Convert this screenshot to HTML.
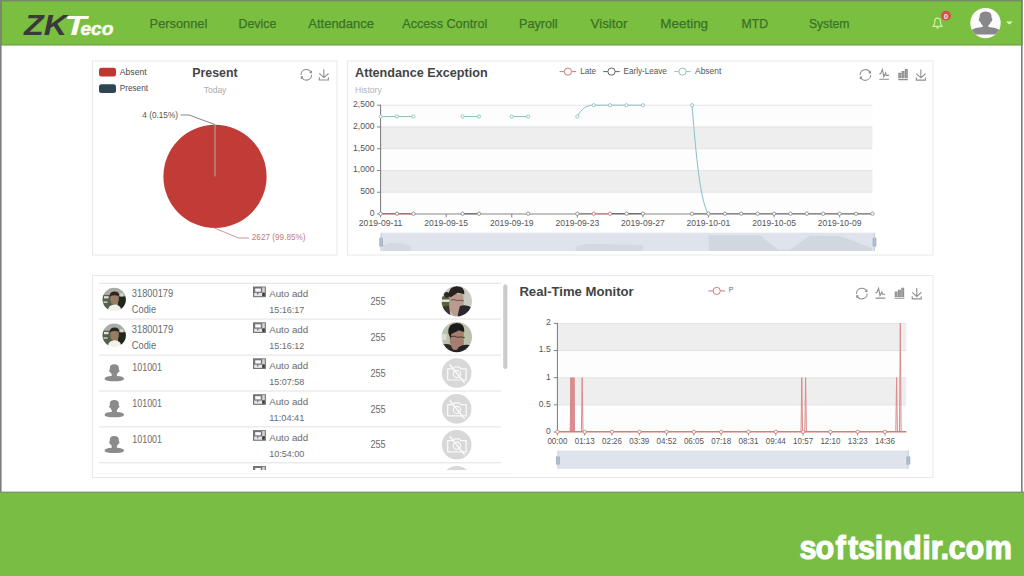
<!DOCTYPE html>
<html><head><meta charset="utf-8"><title>ZKTeco Dashboard</title>
<style>
html,body{margin:0;padding:0;width:1024px;height:576px;overflow:hidden;background:#fff}
svg{display:block;position:absolute;left:0;top:0}
text{font-family:'Liberation Sans', Arial, sans-serif}
</style></head>
<body>
<svg width="1024" height="576" viewBox="0 0 1024 576">
<rect x="0" y="0" width="1024" height="576" fill="#fff"/>
<rect x="1" y="1" width="1021" height="44.5" fill="#7abf3f"/>
<rect x="1" y="43.8" width="1021" height="1.5" fill="#74aa50"/>
<rect x="0" y="0" width="1022.5" height="1.4" fill="#76876a"/>
<rect x="0" y="0" width="1.6" height="492" fill="#7e7e7e"/>
<rect x="1021" y="0" width="1.6" height="492" fill="#7e7e7e"/>
<rect x="0" y="0" width="1.6" height="45" fill="#75886a"/>
<rect x="1021" y="0" width="1.6" height="45" fill="#75886a"/>
<rect x="0" y="492" width="1024" height="84" fill="#79bd45"/>
<rect x="0" y="491.6" width="1024" height="1.2" fill="#7a8f6a"/>
<g font-family="'Liberation Sans', Arial, sans-serif" font-weight="bold" font-style="italic">
<text x="24" y="35" font-size="29.6" fill="#3a3a3c" textLength="43" lengthAdjust="spacingAndGlyphs" font-weight="bold" font-style="italic">ZK</text>
<text x="64.5" y="35" font-size="28.5" fill="#fbfdf5" textLength="22" lengthAdjust="spacingAndGlyphs" font-weight="bold" font-style="italic">T</text>
<text x="80.4" y="34.9" font-size="18.6" fill="#fbfdf5" textLength="33" lengthAdjust="spacingAndGlyphs" font-weight="bold" font-style="italic" stroke="#fbfdf5" stroke-width="0.5">eco</text>
</g>
<text x="149.6" y="27.7" font-size="13.5" fill="#3b7128" textLength="57.7" lengthAdjust="spacingAndGlyphs" stroke="#3b7128" stroke-width="0.25">Personnel</text>
<text x="238.5" y="27.7" font-size="13.5" fill="#3b7128" textLength="37.8" lengthAdjust="spacingAndGlyphs" stroke="#3b7128" stroke-width="0.25">Device</text>
<text x="308.3" y="27.7" font-size="13.5" fill="#3b7128" textLength="65.7" lengthAdjust="spacingAndGlyphs" stroke="#3b7128" stroke-width="0.25">Attendance</text>
<text x="402.2" y="27.7" font-size="13.5" fill="#3b7128" textLength="85.1" lengthAdjust="spacingAndGlyphs" stroke="#3b7128" stroke-width="0.25">Access Control</text>
<text x="519" y="27.7" font-size="13.5" fill="#3b7128" textLength="38.6" lengthAdjust="spacingAndGlyphs" stroke="#3b7128" stroke-width="0.25">Payroll</text>
<text x="590.6" y="27.7" font-size="13.5" fill="#3b7128" textLength="36.8" lengthAdjust="spacingAndGlyphs" stroke="#3b7128" stroke-width="0.25">Visitor</text>
<text x="660.3" y="27.7" font-size="13.5" fill="#3b7128" textLength="47.8" lengthAdjust="spacingAndGlyphs" stroke="#3b7128" stroke-width="0.25">Meeting</text>
<text x="741.6" y="27.7" font-size="13.5" fill="#3b7128" textLength="26.6" lengthAdjust="spacingAndGlyphs" stroke="#3b7128" stroke-width="0.25">MTD</text>
<text x="808.9" y="27.7" font-size="13.5" fill="#3b7128" textLength="40.6" lengthAdjust="spacingAndGlyphs" stroke="#3b7128" stroke-width="0.25">System</text>
<g fill="none" stroke="#c8efa2" stroke-width="1.25" stroke-linejoin="round" stroke-linecap="round"><path d="M932.9 26.4 L942.2 26.4 Q940.4 25 940.4 22.6 L940.4 21.2 Q940.4 18.1 937.55 18.1 Q934.7 18.1 934.7 21.2 L934.7 22.6 Q934.7 25 932.9 26.4 Z"/><path d="M936.6 27.6 Q937.55 28.6 938.5 27.6"/></g>
<circle cx="946" cy="15.7" r="4.9" fill="#d6504c"/>
<text x="946" y="18.5" font-size="7.8" fill="#ffe8e8" font-weight="bold" text-anchor="middle">0</text>
<circle cx="985.5" cy="23.1" r="15.2" fill="#fcfcfa"/>
<clipPath id="avc"><circle cx="985.5" cy="23.1" r="15.2"/></clipPath>
<g clip-path="url(#avc)" fill="#88888c"><path d="M979.5 18 Q979 11.6 985.6 11.6 Q992.2 11.6 991.6 18 Q992.8 18.2 992.2 20.4 Q991.6 21.6 990.8 21.8 Q990 24.6 988.4 25.6 L988.4 27 Q996.5 27.6 999.5 30 L1001 34.6 L970 34.6 L971.5 30 Q974.5 27.6 982.7 27 L982.7 25.6 Q981.1 24.6 980.3 21.8 Q979.5 21.6 978.9 20.4 Q978.3 18.2 979.5 18 Z"/></g>
<path d="M1005.8 21.4 L1012.9 21.4 L1009.35 24.6 Z" fill="#dff2cf"/>
<defs><filter id="blr" x="-10%" y="-10%" width="120%" height="120%"><feGaussianBlur stdDeviation="0.55"/></filter></defs>
<rect x="92.5" y="61" width="244.5" height="194" fill="#fff" stroke="#e8e8e8" stroke-width="1"/>
<rect x="347.5" y="61" width="585.5" height="194" fill="#fff" stroke="#e8e8e8" stroke-width="1"/>
<rect x="92.5" y="275.5" width="840.5" height="202" fill="#fff" stroke="#e8e8e8" stroke-width="1"/>
<rect x="99" y="67.8" width="17" height="8.8" rx="2.5" fill="#c23531"/>
<rect x="99" y="84.2" width="17" height="8.8" rx="2.5" fill="#2f4554"/>
<text x="119.8" y="74.8" font-size="8.7" fill="#4a4a4a" textLength="26.9" lengthAdjust="spacingAndGlyphs">Absent</text>
<text x="119.8" y="90.9" font-size="8.7" fill="#4a4a4a" textLength="28.2" lengthAdjust="spacingAndGlyphs">Present</text>
<text x="192.3" y="77.2" font-size="12.7" fill="#444" textLength="45.3" lengthAdjust="spacingAndGlyphs" font-weight="bold">Present</text>
<text x="203.7" y="92.6" font-size="8.4" fill="#aaa" textLength="22.7" lengthAdjust="spacingAndGlyphs">Today</text>
<circle cx="215" cy="176.4" r="51.6" fill="#c13c37"/>
<line x1="215" y1="124.8" x2="215" y2="176.4" stroke="#bba9a9" stroke-width="1"/>
<polyline points="180.5,115 189,115 215,124.6" fill="none" stroke="#6f7a80" stroke-width="0.9"/>
<text x="142.3" y="117.8" font-size="8.6" fill="#555" textLength="35.7" lengthAdjust="spacingAndGlyphs">4 (0.15%)</text>
<polyline points="214,227.8 238.5,238 249,238" fill="none" stroke="#c8888c" stroke-width="0.9"/>
<text x="251.8" y="240.3" font-size="8.6" fill="#c47a80" textLength="53.8" lengthAdjust="spacingAndGlyphs">2627 (99.85%)</text>
<path d="M47,18.9h9.8V8.7 M56.3,20.1 C52.1,9,40.5,0.6,26.8,2.1C12.6,3.7,1.6,16.2,2.1,30.6 M13,41.1H3.1v10.2 M3.7,39.9c4.2,11.1,15.8,19.5,29.5,18 c14.2-1.6,25.2-14.1,24.7-28.5" fill="none" stroke="#8f8f8f" stroke-width="1.1" vector-effect="non-scaling-stroke" transform="translate(300.60,69.09) scale(0.19)"/>
<path d="M4.7,22.9L29.3,45.5L54.7,23.4M4.6,43.6L4.6,58L53.8,58L53.8,43.6M29.2,45.1L29.2,0" fill="none" stroke="#8f8f8f" stroke-width="1.1" vector-effect="non-scaling-stroke" transform="translate(318.45,69.20) scale(0.185)"/>
<text x="355.1" y="76.9" font-size="12.6" fill="#444" textLength="132.5" lengthAdjust="spacingAndGlyphs" font-weight="bold">Attendance Exception</text>
<text x="355" y="93.1" font-size="8.4" fill="#b4b4b4" textLength="26.7" lengthAdjust="spacingAndGlyphs">History</text>
<line x1="559.6" y1="71.6" x2="576.1999999999999" y2="71.6" stroke="#d27a7c" stroke-width="1"/><circle cx="567.9" cy="71.6" r="3.6" fill="#fff" stroke="#d27a7c" stroke-width="1"/>
<line x1="603.2" y1="71.6" x2="619.8" y2="71.6" stroke="#606468" stroke-width="1"/><circle cx="611.5" cy="71.6" r="3.6" fill="#fff" stroke="#606468" stroke-width="1"/>
<line x1="674.2" y1="71.6" x2="690.8" y2="71.6" stroke="#92c2c4" stroke-width="1"/><circle cx="682.5" cy="71.6" r="3.6" fill="#fff" stroke="#92c2c4" stroke-width="1"/>
<text x="580.2" y="74.4" font-size="8.6" fill="#555" textLength="15.8" lengthAdjust="spacingAndGlyphs">Late</text>
<text x="623.5" y="74.4" font-size="8.6" fill="#555" textLength="43.4" lengthAdjust="spacingAndGlyphs">Early-Leave</text>
<text x="695" y="74.4" font-size="8.6" fill="#555" textLength="26.4" lengthAdjust="spacingAndGlyphs">Absent</text>
<path d="M47,18.9h9.8V8.7 M56.3,20.1 C52.1,9,40.5,0.6,26.8,2.1C12.6,3.7,1.6,16.2,2.1,30.6 M13,41.1H3.1v10.2 M3.7,39.9c4.2,11.1,15.8,19.5,29.5,18 c14.2-1.6,25.2-14.1,24.7-28.5" fill="none" stroke="#8f8f8f" stroke-width="1.1" vector-effect="non-scaling-stroke" transform="translate(859.70,69.29) scale(0.19)"/>
<path d="M4.1,28.9h7.1l9.3-22l7.4,38l9.7-19.7l3,12.8h14.9M4.1,58h51.4" fill="none" stroke="#8f8f8f" stroke-width="1.1" vector-effect="non-scaling-stroke" transform="translate(878.52,68.19) scale(0.19)"/>
<path d="M6.7,22.9h10V48h-10V22.9zM24.9,13h10v35h-10V13zM43.2,2h10v46h-10V2zM3.1,58h53.7" fill="#a8a8a8" stroke="#8f8f8f" stroke-width="1.1" vector-effect="non-scaling-stroke" transform="translate(897.64,69.14) scale(0.18)"/>
<path d="M4.7,22.9L29.3,45.5L54.7,23.4M4.6,43.6L4.6,58L53.8,58L53.8,43.6M29.2,45.1L29.2,0" fill="none" stroke="#8f8f8f" stroke-width="1.1" vector-effect="non-scaling-stroke" transform="translate(915.45,69.40) scale(0.185)"/>
<rect x="380.6" y="192.24" width="491.80" height="21.76" fill="#fdfdfd"/>
<rect x="380.6" y="170.48" width="491.80" height="21.76" fill="#eeeeee"/>
<rect x="380.6" y="148.72" width="491.80" height="21.76" fill="#fdfdfd"/>
<rect x="380.6" y="126.96" width="491.80" height="21.76" fill="#eeeeee"/>
<rect x="380.6" y="105.20" width="491.80" height="21.76" fill="#fdfdfd"/>
<line x1="380.6" y1="192.24" x2="872.4" y2="192.24" stroke="#dedede" stroke-width="0.8"/>
<line x1="380.6" y1="170.48" x2="872.4" y2="170.48" stroke="#dedede" stroke-width="0.8"/>
<line x1="380.6" y1="148.72" x2="872.4" y2="148.72" stroke="#dedede" stroke-width="0.8"/>
<line x1="380.6" y1="126.96" x2="872.4" y2="126.96" stroke="#dedede" stroke-width="0.8"/>
<line x1="380.6" y1="105.20" x2="872.4" y2="105.20" stroke="#dedede" stroke-width="0.8"/>
<text x="374.6" y="215.8" font-size="8.6" fill="#555" text-anchor="end">0</text>
<line x1="377.0" y1="214.00" x2="380.6" y2="214.00" stroke="#777" stroke-width="0.9"/>
<text x="374.6" y="194.04000000000002" font-size="8.6" fill="#555" text-anchor="end">500</text>
<line x1="377.0" y1="192.24" x2="380.6" y2="192.24" stroke="#777" stroke-width="0.9"/>
<text x="374.6" y="172.28000000000003" font-size="8.6" fill="#555" text-anchor="end">1,000</text>
<line x1="377.0" y1="170.48" x2="380.6" y2="170.48" stroke="#777" stroke-width="0.9"/>
<text x="374.6" y="150.52" font-size="8.6" fill="#555" text-anchor="end">1,500</text>
<line x1="377.0" y1="148.72" x2="380.6" y2="148.72" stroke="#777" stroke-width="0.9"/>
<text x="374.6" y="128.76000000000002" font-size="8.6" fill="#555" text-anchor="end">2,000</text>
<line x1="377.0" y1="126.96" x2="380.6" y2="126.96" stroke="#777" stroke-width="0.9"/>
<text x="374.6" y="107.00000000000001" font-size="8.6" fill="#555" text-anchor="end">2,500</text>
<line x1="377.0" y1="105.20" x2="380.6" y2="105.20" stroke="#777" stroke-width="0.9"/>
<line x1="380.6" y1="104.7" x2="380.6" y2="214.0" stroke="#777" stroke-width="1"/>
<line x1="380.6" y1="214.0" x2="872.4" y2="214.0" stroke="#888" stroke-width="1.2"/>
<text x="380.6" y="225.9" font-size="8.6" fill="#555" textLength="43.7" lengthAdjust="spacingAndGlyphs" text-anchor="middle">2019-09-11</text>
<line x1="380.60" y1="214.0" x2="380.60" y2="217.5" stroke="#777" stroke-width="0.9"/>
<text x="446.17" y="225.9" font-size="8.6" fill="#555" textLength="43.7" lengthAdjust="spacingAndGlyphs" text-anchor="middle">2019-09-15</text>
<line x1="446.17" y1="214.0" x2="446.17" y2="217.5" stroke="#777" stroke-width="0.9"/>
<text x="511.75" y="225.9" font-size="8.6" fill="#555" textLength="43.7" lengthAdjust="spacingAndGlyphs" text-anchor="middle">2019-09-19</text>
<line x1="511.75" y1="214.0" x2="511.75" y2="217.5" stroke="#777" stroke-width="0.9"/>
<text x="577.32" y="225.9" font-size="8.6" fill="#555" textLength="43.7" lengthAdjust="spacingAndGlyphs" text-anchor="middle">2019-09-23</text>
<line x1="577.32" y1="214.0" x2="577.32" y2="217.5" stroke="#777" stroke-width="0.9"/>
<text x="642.89" y="225.9" font-size="8.6" fill="#555" textLength="43.7" lengthAdjust="spacingAndGlyphs" text-anchor="middle">2019-09-27</text>
<line x1="642.89" y1="214.0" x2="642.89" y2="217.5" stroke="#777" stroke-width="0.9"/>
<text x="708.47" y="225.9" font-size="8.6" fill="#555" textLength="43.7" lengthAdjust="spacingAndGlyphs" text-anchor="middle">2019-10-01</text>
<line x1="708.47" y1="214.0" x2="708.47" y2="217.5" stroke="#777" stroke-width="0.9"/>
<text x="774.04" y="225.9" font-size="8.6" fill="#555" textLength="43.7" lengthAdjust="spacingAndGlyphs" text-anchor="middle">2019-10-05</text>
<line x1="774.04" y1="214.0" x2="774.04" y2="217.5" stroke="#777" stroke-width="0.9"/>
<text x="839.61" y="225.9" font-size="8.6" fill="#555" textLength="43.7" lengthAdjust="spacingAndGlyphs" text-anchor="middle">2019-10-09</text>
<line x1="839.61" y1="214.0" x2="839.61" y2="217.5" stroke="#777" stroke-width="0.9"/>
<line x1="380.60" y1="213.7" x2="413.39" y2="213.7" stroke="#a87070" stroke-width="1.2"/>
<line x1="462.57" y1="213.7" x2="478.96" y2="213.7" stroke="#707070" stroke-width="1.2"/>
<line x1="577.32" y1="213.7" x2="593.71" y2="213.7" stroke="#8a8a8a" stroke-width="1.2"/>
<line x1="593.71" y1="213.7" x2="610.11" y2="213.7" stroke="#d08080" stroke-width="1.2"/>
<line x1="610.11" y1="213.7" x2="642.89" y2="213.7" stroke="#707070" stroke-width="1.2"/>
<line x1="692.07" y1="213.7" x2="872.40" y2="213.7" stroke="#8a8a8a" stroke-width="1.2"/>
<path d="M380.60 116.52 L413.39 116.52 M462.57 116.52 L478.96 116.52 M511.75 116.52 L528.14 116.52 M577.32 116.52 C581.32 109.55 585.32 105.20 593.71 105.20 L642.89 105.20 M692.07 105.20 C694.57 135.66 699.07 200.94 708.47 214.00" fill="none" stroke="#8cbfc2" stroke-width="1"/>
<circle cx="380.60" cy="116.52" r="1.6" fill="#fff" stroke="#8cbfc2" stroke-width="0.9"/>
<circle cx="396.99" cy="116.52" r="1.6" fill="#fff" stroke="#8cbfc2" stroke-width="0.9"/>
<circle cx="413.39" cy="116.52" r="1.6" fill="#fff" stroke="#8cbfc2" stroke-width="0.9"/>
<circle cx="462.57" cy="116.52" r="1.6" fill="#fff" stroke="#8cbfc2" stroke-width="0.9"/>
<circle cx="478.96" cy="116.52" r="1.6" fill="#fff" stroke="#8cbfc2" stroke-width="0.9"/>
<circle cx="511.75" cy="116.52" r="1.6" fill="#fff" stroke="#8cbfc2" stroke-width="0.9"/>
<circle cx="528.14" cy="116.52" r="1.6" fill="#fff" stroke="#8cbfc2" stroke-width="0.9"/>
<circle cx="577.32" cy="116.52" r="1.6" fill="#fff" stroke="#8cbfc2" stroke-width="0.9"/>
<circle cx="593.71" cy="105.20" r="1.6" fill="#fff" stroke="#8cbfc2" stroke-width="0.9"/>
<circle cx="610.11" cy="105.20" r="1.6" fill="#fff" stroke="#8cbfc2" stroke-width="0.9"/>
<circle cx="626.50" cy="105.20" r="1.6" fill="#fff" stroke="#8cbfc2" stroke-width="0.9"/>
<circle cx="642.89" cy="105.20" r="1.6" fill="#fff" stroke="#8cbfc2" stroke-width="0.9"/>
<circle cx="692.07" cy="105.20" r="1.6" fill="#fff" stroke="#8cbfc2" stroke-width="0.9"/>
<circle cx="380.60" cy="213.70" r="1.7" fill="#fff" stroke="#8c8c8c" stroke-width="0.9"/>
<circle cx="396.99" cy="213.70" r="1.7" fill="#fff" stroke="#8c8c8c" stroke-width="0.9"/>
<circle cx="413.39" cy="213.70" r="1.7" fill="#fff" stroke="#8c8c8c" stroke-width="0.9"/>
<circle cx="462.57" cy="213.70" r="1.7" fill="#fff" stroke="#8c8c8c" stroke-width="0.9"/>
<circle cx="478.96" cy="213.70" r="1.7" fill="#fff" stroke="#8c8c8c" stroke-width="0.9"/>
<circle cx="528.14" cy="213.70" r="1.7" fill="#fff" stroke="#8c8c8c" stroke-width="0.9"/>
<circle cx="577.32" cy="213.70" r="1.7" fill="#fff" stroke="#8c8c8c" stroke-width="0.9"/>
<circle cx="593.71" cy="213.70" r="1.7" fill="#fff" stroke="#cc7777" stroke-width="0.9"/>
<circle cx="610.11" cy="213.70" r="1.7" fill="#fff" stroke="#cc7777" stroke-width="0.9"/>
<circle cx="626.50" cy="213.70" r="1.7" fill="#fff" stroke="#8c8c8c" stroke-width="0.9"/>
<circle cx="642.89" cy="213.70" r="1.7" fill="#fff" stroke="#8c8c8c" stroke-width="0.9"/>
<circle cx="692.07" cy="213.70" r="1.7" fill="#fff" stroke="#8c8c8c" stroke-width="0.9"/>
<circle cx="708.47" cy="213.70" r="1.7" fill="#fff" stroke="#8c8c8c" stroke-width="0.9"/>
<circle cx="724.86" cy="213.70" r="1.7" fill="#fff" stroke="#8c8c8c" stroke-width="0.9"/>
<circle cx="741.25" cy="213.70" r="1.7" fill="#fff" stroke="#8c8c8c" stroke-width="0.9"/>
<circle cx="757.65" cy="213.70" r="1.7" fill="#fff" stroke="#8c8c8c" stroke-width="0.9"/>
<circle cx="774.04" cy="213.70" r="1.7" fill="#fff" stroke="#8c8c8c" stroke-width="0.9"/>
<circle cx="790.43" cy="213.70" r="1.7" fill="#fff" stroke="#8c8c8c" stroke-width="0.9"/>
<circle cx="806.83" cy="213.70" r="1.7" fill="#fff" stroke="#8c8c8c" stroke-width="0.9"/>
<circle cx="823.22" cy="213.70" r="1.7" fill="#fff" stroke="#8c8c8c" stroke-width="0.9"/>
<circle cx="839.61" cy="213.70" r="1.7" fill="#fff" stroke="#8c8c8c" stroke-width="0.9"/>
<circle cx="856.01" cy="213.70" r="1.7" fill="#fff" stroke="#8c8c8c" stroke-width="0.9"/>
<circle cx="872.40" cy="213.70" r="1.7" fill="#fff" stroke="#8c8c8c" stroke-width="0.9"/>
<rect x="381" y="232.7" width="493.4" height="18.3" fill="#dfe4ec"/>
<path d="M383 251 L383 245 Q390 242 400 243 L410 245 L412 251 Z" fill="#d2d9e1"/>
<path d="M575 251 L577 246 Q590 243 600 244 L643 245 L643 251 Z" fill="#d2d9e1"/>
<path d="M708.7 251 L708.7 235.3 L760 235.3 L778 249.6 L790 249.6 L810 235.5 L840 236 L872 248 L872 251 Z" fill="#d0d7df"/>
<rect x="379.2" y="237.6" width="3.8" height="9.2" rx="1" fill="#a9b6c8"/>
<line x1="381" y1="232.7" x2="381" y2="251" stroke="#b9c4d2" stroke-width="0.8"/>
<rect x="872.6" y="237.6" width="3.8" height="9.2" rx="1" fill="#a9b6c8"/>
<line x1="874.4" y1="232.7" x2="874.4" y2="251" stroke="#b9c4d2" stroke-width="0.8"/>
<line x1="99" y1="283.3" x2="501" y2="283.3" stroke="#e2e2e2" stroke-width="1"/>
<line x1="99" y1="319.1" x2="501" y2="319.1" stroke="#e2e2e2" stroke-width="1"/>
<line x1="99" y1="355.1" x2="501" y2="355.1" stroke="#e2e2e2" stroke-width="1"/>
<line x1="99" y1="391.0" x2="501" y2="391.0" stroke="#e2e2e2" stroke-width="1"/>
<line x1="99" y1="426.9" x2="501" y2="426.9" stroke="#e2e2e2" stroke-width="1"/>
<line x1="99" y1="462.8" x2="501" y2="462.8" stroke="#e2e2e2" stroke-width="1"/>
<rect x="503.2" y="284.3" width="4.2" height="84.7" rx="2.1" fill="#cbcbcb"/>
<clipPath id="sp0"><circle cx="114.2" cy="299.40000000000003" r="11.7"/></clipPath><g clip-path="url(#sp0)"><g filter="url(#blr)"><rect x="100.5" y="285.70000000000005" width="27.4" height="27.4" fill="#a9aca6"/><rect x="100.5" y="294.90000000000003" width="13.7" height="18.7" fill="#55604d"/><rect x="104.0" y="296.20000000000005" width="4.5" height="2.2" fill="#e2e2da"/><rect x="103.5" y="301.40000000000003" width="4" height="1.6" fill="#c8ccc0"/><rect x="117.7" y="296.40000000000003" width="11.7" height="16.7" fill="#23251f"/><rect x="120.2" y="293.40000000000003" width="3" height="3" fill="#d8d8d0"/><ellipse cx="114.60000000000001" cy="299.1" rx="4.3" ry="6" fill="#9a7c62"/><path d="M109.8 296.20000000000005 Q109.60000000000001 291.6 114.60000000000001 291.6 Q119.60000000000001 291.6 119.2 296.20000000000005 Q114.7 294.40000000000003 109.8 296.20000000000005 Z" fill="#2b2622"/><ellipse cx="114.60000000000001" cy="309.90000000000003" rx="6.5" ry="5.5" fill="#f2f0e8"/></g></g>
<text x="131.8" y="297.3" font-size="10.1" fill="#6b6b6b" textLength="41.4" lengthAdjust="spacingAndGlyphs">31800179</text>
<text x="131.8" y="312.90000000000003" font-size="10.0" fill="#6b6b6b" textLength="24.3" lengthAdjust="spacingAndGlyphs">Codie</text>
<g><rect x="253.0" y="286.5" width="12.9" height="10.7" fill="#757575"/><rect x="254.2" y="292.9" width="8" height="3.2" fill="#e4e4e4"/><path d="M257.0 292.9 L258.6 292.9 L257.8 295.1 Z" fill="#555"/><rect x="255.2" y="288.5" width="5.6" height="3.2" fill="#fafafa"/><rect x="262.2" y="287.4" width="2.6" height="5.3" fill="#d4d4d4"/><rect x="262.4" y="292.7" width="2.2" height="3.2" fill="#3a3a3a"/></g>
<text x="269.2" y="297.3" font-size="9.9" fill="#6b6b6b" textLength="39" lengthAdjust="spacingAndGlyphs">Auto add</text>
<text x="269.2" y="313.0" font-size="9.9" fill="#6b6b6b" textLength="35.1" lengthAdjust="spacingAndGlyphs">15:16:17</text>
<text x="370.4" y="304.8" font-size="10.2" fill="#6b6b6b" textLength="15.3" lengthAdjust="spacingAndGlyphs">255</text>
<clipPath id="bp0"><circle cx="456.8" cy="301.3" r="15.2"/></clipPath><g clip-path="url(#bp0)"><g filter="url(#blr)"><rect x="439.6" y="284.1" width="34.4" height="34.4" fill="#c8ccc0"/><rect x="439.6" y="296.3" width="10" height="15" fill="#58623c"/><rect x="439.6" y="299.5" width="10" height="2.4" fill="#e6e6de"/><circle cx="446.8" cy="294.8" r="2.8" fill="#2a2a28"/><path d="M449.8 293.3 L463.3 294.3 L463.8 309.3 Q459.8 316.3 453.8 316.3 L449.3 310.3 Z" fill="#b99c90"/><path d="M448.8 296.3 Q448.3 286.3 456.8 286.3 Q464.8 286.3 464.3 294.3 L457.8 292.8 L450.8 297.3 Z" fill="#262424"/><path d="M450.8 300.1 Q453.8 298.7 456.8 300.5 Q460.3 299.7 463.8 300.90000000000003" fill="none" stroke="#5a4a44" stroke-width="0.9"/><path d="M457.3 317.3 L459.8 306.3 Q465.8 303.3 472.8 308.3 L472.8 317.3 Z" fill="#2c2629"/><path d="M440.8 307.3 L448.8 305.3 L450.8 317.3 L440.8 317.3 Z" fill="#3a3430"/></g></g>
<clipPath id="sp1"><circle cx="114.2" cy="335.20000000000005" r="11.7"/></clipPath><g clip-path="url(#sp1)"><g filter="url(#blr)"><rect x="100.5" y="321.50000000000006" width="27.4" height="27.4" fill="#a9aca6"/><rect x="100.5" y="330.70000000000005" width="13.7" height="18.7" fill="#55604d"/><rect x="104.0" y="332.00000000000006" width="4.5" height="2.2" fill="#e2e2da"/><rect x="103.5" y="337.20000000000005" width="4" height="1.6" fill="#c8ccc0"/><rect x="117.7" y="332.20000000000005" width="11.7" height="16.7" fill="#23251f"/><rect x="120.2" y="329.20000000000005" width="3" height="3" fill="#d8d8d0"/><ellipse cx="114.60000000000001" cy="334.90000000000003" rx="4.3" ry="6" fill="#9a7c62"/><path d="M109.8 332.00000000000006 Q109.60000000000001 327.40000000000003 114.60000000000001 327.40000000000003 Q119.60000000000001 327.40000000000003 119.2 332.00000000000006 Q114.7 330.20000000000005 109.8 332.00000000000006 Z" fill="#2b2622"/><ellipse cx="114.60000000000001" cy="345.70000000000005" rx="6.5" ry="5.5" fill="#f2f0e8"/></g></g>
<text x="131.8" y="333.1" font-size="10.1" fill="#6b6b6b" textLength="41.4" lengthAdjust="spacingAndGlyphs">31800179</text>
<text x="131.8" y="348.70000000000005" font-size="10.0" fill="#6b6b6b" textLength="24.3" lengthAdjust="spacingAndGlyphs">Codie</text>
<g><rect x="253.0" y="322.3" width="12.9" height="10.7" fill="#757575"/><rect x="254.2" y="328.7" width="8" height="3.2" fill="#e4e4e4"/><path d="M257.0 328.7 L258.6 328.7 L257.8 330.90000000000003 Z" fill="#555"/><rect x="255.2" y="324.3" width="5.6" height="3.2" fill="#fafafa"/><rect x="262.2" y="323.2" width="2.6" height="5.3" fill="#d4d4d4"/><rect x="262.4" y="328.5" width="2.2" height="3.2" fill="#3a3a3a"/></g>
<text x="269.2" y="333.1" font-size="9.9" fill="#6b6b6b" textLength="39" lengthAdjust="spacingAndGlyphs">Auto add</text>
<text x="269.2" y="348.8" font-size="9.9" fill="#6b6b6b" textLength="35.1" lengthAdjust="spacingAndGlyphs">15:16:12</text>
<text x="370.4" y="340.6" font-size="10.2" fill="#6b6b6b" textLength="15.3" lengthAdjust="spacingAndGlyphs">255</text>
<clipPath id="bp1"><circle cx="456.8" cy="337.1" r="15.2"/></clipPath><g clip-path="url(#bp1)"><g filter="url(#blr)"><rect x="439.6" y="319.90000000000003" width="34.4" height="34.4" fill="#b9c2aa"/><rect x="439.6" y="334.1" width="7" height="6" fill="#dadad2"/><path d="M449.8 331.1 L463.8 331.1 L463.8 345.1 Q458.8 350.1 452.8 349.1 L449.8 343.1 Z" fill="#a67e70"/><path d="M448.3 333.1 Q447.8 323.1 456.8 323.1 Q464.8 323.1 464.3 332.1 L458.8 330.6 L451.3 334.1 L450.8 339.1 Z" fill="#1f1d1d"/><path d="M450.8 336.6 Q454.3 335.5 457.3 337.3 Q460.8 336.3 464.8 337.70000000000005" fill="none" stroke="#4a3a34" stroke-width="1"/><path d="M440.8 345.1 Q446.8 343.1 450.8 345.1 L454.8 353.1 L440.8 353.1 Z" fill="#2a2a28"/><path d="M454.8 353.1 L458.8 347.1 Q464.8 343.1 472.8 346.1 L472.8 353.1 Z" fill="#242022"/><rect x="440.8" y="349.6" width="32" height="4" fill="#262224"/></g></g>
<path fill="#8b8b8b" d="M109.8 368.2 Q109.6 364.2 114.3 364.2 Q119.0 364.2 118.8 368.2 L118.89999999999999 369.8 Q119.8 370.2 119.5 371.2 Q119.2 371.8 118.39999999999999 371.9 Q117.89999999999999 373.4 116.89999999999999 374.0 L116.89999999999999 376.0 C121.3 376.2 123.89999999999999 377.2 124.1 378.8 Q124.0 380.4 121.3 380.8 Q114.3 381.8 107.3 380.8 Q104.6 380.4 104.5 378.8 C104.7 377.2 107.3 376.2 111.7 376.0 L111.7 374.0 Q110.7 373.4 110.2 371.9 Q109.39999999999999 371.8 109.1 371.2 Q108.8 370.2 109.7 369.8 Z"/>
<text x="132.3" y="371.3" font-size="10.0" fill="#6b6b6b" textLength="29.7" lengthAdjust="spacingAndGlyphs">101001</text>
<g><rect x="253.0" y="358.3" width="12.9" height="10.7" fill="#757575"/><rect x="254.2" y="364.7" width="8" height="3.2" fill="#e4e4e4"/><path d="M257.0 364.7 L258.6 364.7 L257.8 366.90000000000003 Z" fill="#555"/><rect x="255.2" y="360.3" width="5.6" height="3.2" fill="#fafafa"/><rect x="262.2" y="359.2" width="2.6" height="5.3" fill="#d4d4d4"/><rect x="262.4" y="364.5" width="2.2" height="3.2" fill="#3a3a3a"/></g>
<text x="269.2" y="369.1" font-size="9.9" fill="#6b6b6b" textLength="39" lengthAdjust="spacingAndGlyphs">Auto add</text>
<text x="269.2" y="384.8" font-size="9.9" fill="#6b6b6b" textLength="35.1" lengthAdjust="spacingAndGlyphs">15:07:58</text>
<text x="370.4" y="376.6" font-size="10.2" fill="#6b6b6b" textLength="15.3" lengthAdjust="spacingAndGlyphs">255</text>
<circle cx="456.7" cy="373.0" r="14.8" fill="#d8d8d8"/><g fill="none" stroke="#fafafa" stroke-width="1.2"><path d="M447.7 368.8 L453.2 368.8 L454.7 367.0 L459.2 367.0 L460.7 368.8 L466.2 368.8 L466.2 380.0 L447.7 380.0 Z"/><circle cx="456.9" cy="374.0" r="3.6"/><path d="M449.7 364.5 L464.7 383.0" stroke-width="1.4"/></g>
<path fill="#8b8b8b" d="M109.8 404.09999999999997 Q109.6 400.09999999999997 114.3 400.09999999999997 Q119.0 400.09999999999997 118.8 404.09999999999997 L118.89999999999999 405.7 Q119.8 406.09999999999997 119.5 407.09999999999997 Q119.2 407.7 118.39999999999999 407.79999999999995 Q117.89999999999999 409.29999999999995 116.89999999999999 409.9 L116.89999999999999 411.9 C121.3 412.09999999999997 123.89999999999999 413.09999999999997 124.1 414.7 Q124.0 416.29999999999995 121.3 416.7 Q114.3 417.7 107.3 416.7 Q104.6 416.29999999999995 104.5 414.7 C104.7 413.09999999999997 107.3 412.09999999999997 111.7 411.9 L111.7 409.9 Q110.7 409.29999999999995 110.2 407.79999999999995 Q109.39999999999999 407.7 109.1 407.09999999999997 Q108.8 406.09999999999997 109.7 405.7 Z"/>
<text x="132.3" y="407.2" font-size="10.0" fill="#6b6b6b" textLength="29.7" lengthAdjust="spacingAndGlyphs">101001</text>
<g><rect x="253.0" y="394.2" width="12.9" height="10.7" fill="#757575"/><rect x="254.2" y="400.59999999999997" width="8" height="3.2" fill="#e4e4e4"/><path d="M257.0 400.59999999999997 L258.6 400.59999999999997 L257.8 402.8 Z" fill="#555"/><rect x="255.2" y="396.2" width="5.6" height="3.2" fill="#fafafa"/><rect x="262.2" y="395.09999999999997" width="2.6" height="5.3" fill="#d4d4d4"/><rect x="262.4" y="400.4" width="2.2" height="3.2" fill="#3a3a3a"/></g>
<text x="269.2" y="405.0" font-size="9.9" fill="#6b6b6b" textLength="39" lengthAdjust="spacingAndGlyphs">Auto add</text>
<text x="269.2" y="420.7" font-size="9.9" fill="#6b6b6b" textLength="35.1" lengthAdjust="spacingAndGlyphs">11:04:41</text>
<text x="370.4" y="412.5" font-size="10.2" fill="#6b6b6b" textLength="15.3" lengthAdjust="spacingAndGlyphs">255</text>
<circle cx="456.7" cy="408.9" r="14.8" fill="#d8d8d8"/><g fill="none" stroke="#fafafa" stroke-width="1.2"><path d="M447.7 404.7 L453.2 404.7 L454.7 402.9 L459.2 402.9 L460.7 404.7 L466.2 404.7 L466.2 415.9 L447.7 415.9 Z"/><circle cx="456.9" cy="409.9" r="3.6"/><path d="M449.7 400.4 L464.7 418.9" stroke-width="1.4"/></g>
<path fill="#8b8b8b" d="M109.8 439.99999999999994 Q109.6 435.99999999999994 114.3 435.99999999999994 Q119.0 435.99999999999994 118.8 439.99999999999994 L118.89999999999999 441.59999999999997 Q119.8 441.99999999999994 119.5 442.99999999999994 Q119.2 443.59999999999997 118.39999999999999 443.69999999999993 Q117.89999999999999 445.19999999999993 116.89999999999999 445.79999999999995 L116.89999999999999 447.79999999999995 C121.3 447.99999999999994 123.89999999999999 448.99999999999994 124.1 450.59999999999997 Q124.0 452.19999999999993 121.3 452.59999999999997 Q114.3 453.59999999999997 107.3 452.59999999999997 Q104.6 452.19999999999993 104.5 450.59999999999997 C104.7 448.99999999999994 107.3 447.99999999999994 111.7 447.79999999999995 L111.7 445.79999999999995 Q110.7 445.19999999999993 110.2 443.69999999999993 Q109.39999999999999 443.59999999999997 109.1 442.99999999999994 Q108.8 441.99999999999994 109.7 441.59999999999997 Z"/>
<text x="132.3" y="443.09999999999997" font-size="10.0" fill="#6b6b6b" textLength="29.7" lengthAdjust="spacingAndGlyphs">101001</text>
<g><rect x="253.0" y="430.09999999999997" width="12.9" height="10.7" fill="#757575"/><rect x="254.2" y="436.49999999999994" width="8" height="3.2" fill="#e4e4e4"/><path d="M257.0 436.49999999999994 L258.6 436.49999999999994 L257.8 438.7 Z" fill="#555"/><rect x="255.2" y="432.09999999999997" width="5.6" height="3.2" fill="#fafafa"/><rect x="262.2" y="430.99999999999994" width="2.6" height="5.3" fill="#d4d4d4"/><rect x="262.4" y="436.29999999999995" width="2.2" height="3.2" fill="#3a3a3a"/></g>
<text x="269.2" y="440.9" font-size="9.9" fill="#6b6b6b" textLength="39" lengthAdjust="spacingAndGlyphs">Auto add</text>
<text x="269.2" y="456.59999999999997" font-size="9.9" fill="#6b6b6b" textLength="35.1" lengthAdjust="spacingAndGlyphs">10:54:00</text>
<text x="370.4" y="448.4" font-size="10.2" fill="#6b6b6b" textLength="15.3" lengthAdjust="spacingAndGlyphs">255</text>
<circle cx="456.7" cy="444.79999999999995" r="14.8" fill="#d8d8d8"/><g fill="none" stroke="#fafafa" stroke-width="1.2"><path d="M447.7 440.59999999999997 L453.2 440.59999999999997 L454.7 438.79999999999995 L459.2 438.79999999999995 L460.7 440.59999999999997 L466.2 440.59999999999997 L466.2 451.79999999999995 L447.7 451.79999999999995 Z"/><circle cx="456.9" cy="445.79999999999995" r="3.6"/><path d="M449.7 436.29999999999995 L464.7 454.79999999999995" stroke-width="1.4"/></g>
<clipPath id="rowclip"><rect x="95" y="463.5" width="420" height="6.5"/></clipPath>
<g clip-path="url(#rowclip)">
<g><rect x="253.0" y="466.0" width="12.9" height="10.7" fill="#757575"/><rect x="254.2" y="472.4" width="8" height="3.2" fill="#e4e4e4"/><path d="M257.0 472.4 L258.6 472.4 L257.8 474.6 Z" fill="#555"/><rect x="255.2" y="468.0" width="5.6" height="3.2" fill="#fafafa"/><rect x="262.2" y="466.9" width="2.6" height="5.3" fill="#d4d4d4"/><rect x="262.4" y="472.2" width="2.2" height="3.2" fill="#3a3a3a"/></g>
<circle cx="456.7" cy="480.7" r="14.8" fill="#d8d8d8"/><g fill="none" stroke="#fafafa" stroke-width="1.2"><path d="M447.7 476.5 L453.2 476.5 L454.7 474.7 L459.2 474.7 L460.7 476.5 L466.2 476.5 L466.2 487.7 L447.7 487.7 Z"/><circle cx="456.9" cy="481.7" r="3.6"/><path d="M449.7 472.2 L464.7 490.7" stroke-width="1.4"/></g>
<text x="269.2" y="477" font-size="9.3" fill="#6b6b6b" textLength="39" lengthAdjust="spacingAndGlyphs">Auto add</text>
</g>
<line x1="96" y1="473.6" x2="512" y2="473.6" stroke="#f2f2f2" stroke-width="0.8"/>
<text x="519.4" y="296" font-size="12.4" fill="#444" textLength="114.3" lengthAdjust="spacingAndGlyphs" font-weight="bold">Real-Time Monitor</text>
<line x1="708.4000000000001" y1="290.9" x2="725.0" y2="290.9" stroke="#d27a7c" stroke-width="1"/><circle cx="716.7" cy="290.9" r="3.6" fill="#fff" stroke="#d27a7c" stroke-width="1"/>
<text x="728.8" y="291.8" font-size="7" fill="#666">P</text>
<path d="M47,18.9h9.8V8.7 M56.3,20.1 C52.1,9,40.5,0.6,26.8,2.1C12.6,3.7,1.6,16.2,2.1,30.6 M13,41.1H3.1v10.2 M3.7,39.9c4.2,11.1,15.8,19.5,29.5,18 c14.2-1.6,25.2-14.1,24.7-28.5" fill="none" stroke="#8f8f8f" stroke-width="1.1" vector-effect="non-scaling-stroke" transform="translate(856.10,287.89) scale(0.19)"/>
<path d="M4.1,28.9h7.1l9.3-22l7.4,38l9.7-19.7l3,12.8h14.9M4.1,58h51.4" fill="none" stroke="#8f8f8f" stroke-width="1.1" vector-effect="non-scaling-stroke" transform="translate(874.72,287.09) scale(0.19)"/>
<path d="M6.7,22.9h10V48h-10V22.9zM24.9,13h10v35h-10V13zM43.2,2h10v46h-10V2zM3.1,58h53.7" fill="#a8a8a8" stroke="#8f8f8f" stroke-width="1.1" vector-effect="non-scaling-stroke" transform="translate(894.04,287.84) scale(0.18)"/>
<path d="M4.7,22.9L29.3,45.5L54.7,23.4M4.6,43.6L4.6,58L53.8,58L53.8,43.6M29.2,45.1L29.2,0" fill="none" stroke="#8f8f8f" stroke-width="1.1" vector-effect="non-scaling-stroke" transform="translate(911.35,288.10) scale(0.185)"/>
<rect x="557.4" y="404.85" width="348.90" height="27.15" fill="#fdfdfd"/>
<rect x="557.4" y="377.70" width="348.90" height="27.15" fill="#eeeeee"/>
<rect x="557.4" y="350.55" width="348.90" height="27.15" fill="#fdfdfd"/>
<rect x="557.4" y="323.40" width="348.90" height="27.15" fill="#eeeeee"/>
<line x1="557.4" y1="404.85" x2="906.3" y2="404.85" stroke="#dedede" stroke-width="0.8"/>
<line x1="557.4" y1="377.70" x2="906.3" y2="377.70" stroke="#dedede" stroke-width="0.8"/>
<line x1="557.4" y1="350.55" x2="906.3" y2="350.55" stroke="#dedede" stroke-width="0.8"/>
<line x1="557.4" y1="323.40" x2="906.3" y2="323.40" stroke="#dedede" stroke-width="0.8"/>
<text x="550.8" y="433.8" font-size="8.6" fill="#555" text-anchor="end">0</text>
<line x1="553.8" y1="432.00" x2="557.4" y2="432.00" stroke="#777" stroke-width="0.9"/>
<text x="550.8" y="406.65000000000003" font-size="8.6" fill="#555" text-anchor="end">0.5</text>
<line x1="553.8" y1="404.85" x2="557.4" y2="404.85" stroke="#777" stroke-width="0.9"/>
<text x="550.8" y="379.5" font-size="8.6" fill="#555" text-anchor="end">1</text>
<line x1="553.8" y1="377.70" x2="557.4" y2="377.70" stroke="#777" stroke-width="0.9"/>
<text x="550.8" y="352.34999999999997" font-size="8.6" fill="#555" text-anchor="end">1.5</text>
<line x1="553.8" y1="350.55" x2="557.4" y2="350.55" stroke="#777" stroke-width="0.9"/>
<text x="550.8" y="325.2" font-size="8.6" fill="#555" text-anchor="end">2</text>
<line x1="553.8" y1="323.40" x2="557.4" y2="323.40" stroke="#777" stroke-width="0.9"/>
<line x1="557.4" y1="322.9" x2="557.4" y2="432.0" stroke="#777" stroke-width="1"/>
<text x="557.4" y="443.8" font-size="8.6" fill="#555" textLength="20" lengthAdjust="spacingAndGlyphs" text-anchor="middle">00:00</text>
<line x1="557.40" y1="432.0" x2="557.40" y2="435.5" stroke="#777" stroke-width="0.9"/>
<text x="584.7" y="443.8" font-size="8.6" fill="#555" textLength="20" lengthAdjust="spacingAndGlyphs" text-anchor="middle">01:13</text>
<line x1="584.70" y1="432.0" x2="584.70" y2="435.5" stroke="#777" stroke-width="0.9"/>
<text x="612.0" y="443.8" font-size="8.6" fill="#555" textLength="20" lengthAdjust="spacingAndGlyphs" text-anchor="middle">02:26</text>
<line x1="612.00" y1="432.0" x2="612.00" y2="435.5" stroke="#777" stroke-width="0.9"/>
<text x="639.3" y="443.8" font-size="8.6" fill="#555" textLength="20" lengthAdjust="spacingAndGlyphs" text-anchor="middle">03:39</text>
<line x1="639.30" y1="432.0" x2="639.30" y2="435.5" stroke="#777" stroke-width="0.9"/>
<text x="666.6" y="443.8" font-size="8.6" fill="#555" textLength="20" lengthAdjust="spacingAndGlyphs" text-anchor="middle">04:52</text>
<line x1="666.60" y1="432.0" x2="666.60" y2="435.5" stroke="#777" stroke-width="0.9"/>
<text x="693.9" y="443.8" font-size="8.6" fill="#555" textLength="20" lengthAdjust="spacingAndGlyphs" text-anchor="middle">06:05</text>
<line x1="693.90" y1="432.0" x2="693.90" y2="435.5" stroke="#777" stroke-width="0.9"/>
<text x="721.2" y="443.8" font-size="8.6" fill="#555" textLength="20" lengthAdjust="spacingAndGlyphs" text-anchor="middle">07:18</text>
<line x1="721.20" y1="432.0" x2="721.20" y2="435.5" stroke="#777" stroke-width="0.9"/>
<text x="748.5" y="443.8" font-size="8.6" fill="#555" textLength="20" lengthAdjust="spacingAndGlyphs" text-anchor="middle">08:31</text>
<line x1="748.50" y1="432.0" x2="748.50" y2="435.5" stroke="#777" stroke-width="0.9"/>
<text x="775.8" y="443.8" font-size="8.6" fill="#555" textLength="20" lengthAdjust="spacingAndGlyphs" text-anchor="middle">09:44</text>
<line x1="775.80" y1="432.0" x2="775.80" y2="435.5" stroke="#777" stroke-width="0.9"/>
<text x="803.1" y="443.8" font-size="8.6" fill="#555" textLength="20" lengthAdjust="spacingAndGlyphs" text-anchor="middle">10:57</text>
<line x1="803.10" y1="432.0" x2="803.10" y2="435.5" stroke="#777" stroke-width="0.9"/>
<text x="830.4" y="443.8" font-size="8.6" fill="#555" textLength="20" lengthAdjust="spacingAndGlyphs" text-anchor="middle">12:10</text>
<line x1="830.40" y1="432.0" x2="830.40" y2="435.5" stroke="#777" stroke-width="0.9"/>
<text x="857.7" y="443.8" font-size="8.6" fill="#555" textLength="20" lengthAdjust="spacingAndGlyphs" text-anchor="middle">13:23</text>
<line x1="857.70" y1="432.0" x2="857.70" y2="435.5" stroke="#777" stroke-width="0.9"/>
<text x="885.0" y="443.8" font-size="8.6" fill="#555" textLength="20" lengthAdjust="spacingAndGlyphs" text-anchor="middle">14:36</text>
<line x1="885.00" y1="432.0" x2="885.00" y2="435.5" stroke="#777" stroke-width="0.9"/>
<rect x="570" y="377.70" width="4.8" height="54.30" fill="#e3a2a2"/>
<path d=" M570.20 432.0 L571.00 377.70 L571.80 432.0 M571.60 432.0 L572.40 377.70 L573.20 432.0 M573.00 432.0 L573.80 377.70 L574.60 432.0 M581.40 432.0 L582.20 377.70 L583.00 432.0 M801.00 432.0 L801.80 377.70 L802.60 432.0 M804.80 432.0 L805.60 377.70 L806.40 432.0 M895.80 432.0 L896.60 377.70 L897.40 432.0 M899.50 432.0 L900.30 323.40 L901.10 432.0" fill="none" stroke="#d98b8b" stroke-width="1"/>
<line x1="557.4" y1="431.8" x2="906.3" y2="431.8" stroke="#d27d7b" stroke-width="1.4"/>
<circle cx="557.40" cy="431.8" r="1.7" fill="#fff" stroke="#d27d7b" stroke-width="0.9"/>
<circle cx="584.70" cy="431.8" r="1.7" fill="#fff" stroke="#d27d7b" stroke-width="0.9"/>
<circle cx="612.00" cy="431.8" r="1.7" fill="#fff" stroke="#d27d7b" stroke-width="0.9"/>
<circle cx="639.30" cy="431.8" r="1.7" fill="#fff" stroke="#d27d7b" stroke-width="0.9"/>
<circle cx="666.60" cy="431.8" r="1.7" fill="#fff" stroke="#d27d7b" stroke-width="0.9"/>
<circle cx="693.90" cy="431.8" r="1.7" fill="#fff" stroke="#d27d7b" stroke-width="0.9"/>
<circle cx="721.20" cy="431.8" r="1.7" fill="#fff" stroke="#d27d7b" stroke-width="0.9"/>
<circle cx="748.50" cy="431.8" r="1.7" fill="#fff" stroke="#d27d7b" stroke-width="0.9"/>
<circle cx="775.80" cy="431.8" r="1.7" fill="#fff" stroke="#d27d7b" stroke-width="0.9"/>
<circle cx="803.10" cy="431.8" r="1.7" fill="#fff" stroke="#d27d7b" stroke-width="0.9"/>
<circle cx="830.40" cy="431.8" r="1.7" fill="#fff" stroke="#d27d7b" stroke-width="0.9"/>
<circle cx="857.70" cy="431.8" r="1.7" fill="#fff" stroke="#d27d7b" stroke-width="0.9"/>
<circle cx="885.00" cy="431.8" r="1.7" fill="#fff" stroke="#d27d7b" stroke-width="0.9"/>
<rect x="557.9" y="450.5" width="350.4" height="18.3" fill="#dfe4ec"/>
<rect x="555.9" y="456.3" width="4" height="8.4" rx="1" fill="#a9b6c8"/>
<rect x="906.3" y="456.3" width="4" height="8.4" rx="1" fill="#a9b6c8"/>
<line x1="557.9" y1="450.5" x2="557.9" y2="468.8" stroke="#b9c4d2" stroke-width="0.8"/>
<line x1="908.3" y1="450.5" x2="908.3" y2="468.8" stroke="#b9c4d2" stroke-width="0.8"/>
<text x="799.5 815.5 835.5 847.9 858.0 874.7 883.8 902.9 922.3 930.8 940.5 948.6 965.5 984.8" y="558.7" font-size="30.7" font-weight="bold" fill="#fff" stroke="#fff" stroke-width="1.0" transform="translate(0,-55.87) scale(1,1.1)">softsindir.com</text>
</svg>
</body></html>
